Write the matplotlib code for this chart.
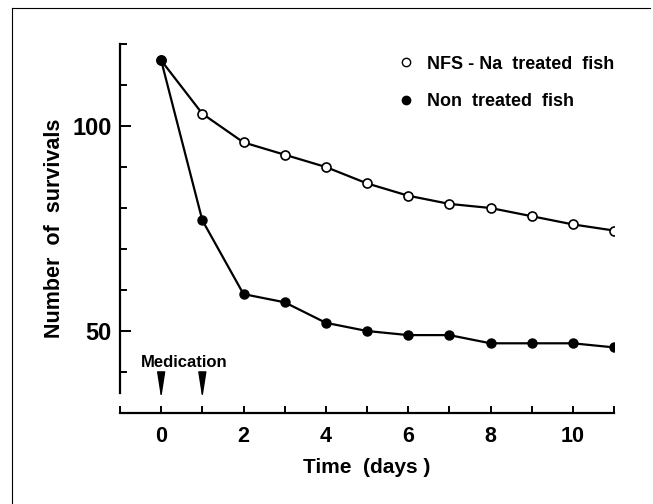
import matplotlib
matplotlib.use("Agg")
import matplotlib.pyplot as plt
from matplotlib.lines import Line2D
from matplotlib.ticker import MultipleLocator, FixedLocator

plt.rcParams['font.family'] = ['Liberation Sans', 'DejaVu Sans']
plt.rcParams['font.weight'] = 'bold'

days = [0, 1, 2, 3, 4, 5, 6, 7, 8, 9, 10, 11]
treated = [116, 103, 96, 93, 90, 86, 83, 81, 80, 78, 76, 74.5]
untreated = [116, 77, 59, 57, 52, 50, 49, 49, 47, 47, 47, 46]
medication_days = [0, 1]
x_ticks = [0, 2, 4, 6, 8, 10]
y_ticks = [50, 100]

fig = plt.figure(figsize=(6.53, 5.04), dpi=100)
ax = fig.add_axes([120/653, 1-413/504, (614-120)/653, (413-44)/504])

ax.plot(days, treated, color='black', lw=1.6, marker='o', ms=6.5,
        mfc='white', mec='black', mew=1.2, zorder=3, label='NFS - Na  treated  fish')
ax.plot(days, untreated, color='black', lw=1.6, marker='o', ms=6.5,
        mfc='black', mec='black', zorder=4, label='Non  treated  fish')

ax.set_xlim(-1, 11)
ax.set_ylim(30, 120)
for s in ['top', 'right']:
    ax.spines[s].set_visible(False)
ax.spines['left'].set_linewidth(1.6)
ax.spines['bottom'].set_linewidth(1.6)
ax.spines['left'].set_bounds(35, 120)

ax.xaxis.set_major_locator(FixedLocator(x_ticks))
ax.xaxis.set_minor_locator(MultipleLocator(1))
ax.yaxis.set_major_locator(FixedLocator(y_ticks))
ax.yaxis.set_minor_locator(MultipleLocator(10))
ax.tick_params(axis='both', which='both', direction='in', width=1.4, colors='black')
ax.tick_params(axis='x', which='both', length=5, pad=9, labelsize=15.5)
ax.tick_params(axis='y', which='major', length=8, pad=6, labelsize=17)
ax.tick_params(axis='y', which='minor', length=5)
for lab in ax.get_xticklabels() + ax.get_yticklabels():
    lab.set_fontweight('bold')

ax.set_xlabel('Time  (days )', fontsize=15, fontweight='bold', labelpad=8)
ax.set_ylabel('Number  of  survivals', fontsize=15.5, fontweight='bold', labelpad=5)

ax.text(0.55, 42.2, 'Medication', fontsize=12, fontweight='bold', ha='center', va='center')
for d in medication_days:
    ax.annotate('', xy=(d, 33.5), xytext=(d, 39.0),
                arrowprops=dict(arrowstyle='-|>,head_length=1.6,head_width=0.25',
                                color='black', lw=1.0, shrinkA=0, shrinkB=0))

handles = [Line2D([], [], ls='none', marker='o', ms=6, mfc='white', mec='black', mew=1.0),
           Line2D([], [], ls='none', marker='o', ms=6, mfc='black', mec='black')]
leg = fig.legend(handles, ['NFS - Na  treated  fish', 'Non  treated  fish'],
                 loc='center left', bbox_to_anchor=(397/653, 1-83/504),
                 frameon=False, fontsize=13, handlelength=1.0, handletextpad=0.65,
                 labelspacing=1.15, borderpad=0, borderaxespad=0)
for t in leg.get_texts():
    t.set_fontweight('bold')

# scan frame
fig.add_artist(Line2D([12/653, 12/653], [0, 1-8/504], transform=fig.transFigure,
                      color='black', lw=0.8))
fig.add_artist(Line2D([12/653, 650/653], [1-8/504, 1-8/504], transform=fig.transFigure,
                      color='black', lw=0.8))

fig.savefig('out.png', dpi=100)
